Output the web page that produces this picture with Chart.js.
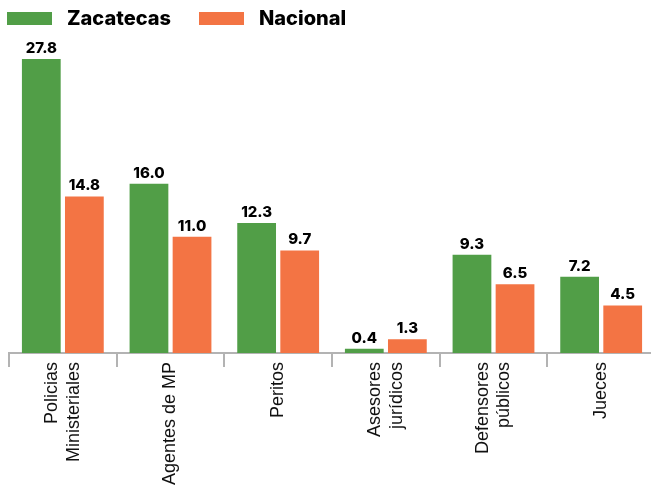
<!DOCTYPE html>
<html>
<head>
<meta charset="utf-8">
<script src="https://cdn.jsdelivr.net/npm/chart.js@4"></script>
<style>
  html, body { margin: 0; padding: 0; background: #fff; overflow: hidden; }
  #wrap { position: relative; width: 651px; height: 491px; overflow: hidden; }
  #chart { position: absolute; left: 0; top: 0; }
  .legend { position: absolute; left: 7px; top: 6px; display: flex; align-items: center;
            font-family: Inter, "Noto Sans", sans-serif; font-weight: 800; font-size: 20px; color: #000; }
  .legend .box { width: 45px; height: 13px; margin-right: 15px; }
  .legend .item { display: flex; align-items: center; margin-right: 28px; }
</style>
</head>
<body>
<div id="wrap">
  <canvas id="chart" width="660" height="491"></canvas>
  <div class="legend">
    <div class="item"><div class="box" style="background:#519e47"></div>Zacatecas</div>
    <div class="item"><div class="box" style="background:#f37444"></div>Nacional</div>
  </div>
</div>
<script>
// --- data ---
const categories = [
  ['Policias', 'Ministeriales'],
  ['Agentes de MP'],
  ['Peritos'],
  ['Asesores', 'jurídicos'],
  ['Defensores', 'públicos'],
  ['Jueces']
];
const zacatecas = [27.8, 16.0, 12.3, 0.4, 9.3, 7.2];
const nacional = [14.8, 11.0, 9.7, 1.3, 6.5, 4.5];

const GREEN = '#519e47';
const ORANGE = '#f37444';
const LABEL_SIZE = 18;
const LABEL_LH = 21.6;

// etiquetas de valor encima de cada barra
const valueLabels = {
  id: 'valueLabels',
  afterDatasetsDraw(chart) {
    const ctx = chart.ctx;
    ctx.save();
    ctx.font = '800 15px Inter, "Noto Sans", sans-serif';
    ctx.fillStyle = '#000';
    ctx.textAlign = 'center';
    ctx.textBaseline = 'alphabetic';
    chart.data.datasets.forEach((ds, i) => {
      chart.getDatasetMeta(i).data.forEach((bar, j) => {
        ctx.fillText(ds.data[j].toFixed(1), bar.x, bar.y - 6);
      });
    });
    ctx.restore();
  }
};

// etiquetas del eje x, giradas y centradas en cada categoria
const xLabels = {
  id: 'xLabels',
  afterDraw(chart) {
    const ctx = chart.ctx;
    const sx = chart.scales.x;
    const top = sx.top + 9;
    ctx.save();
    ctx.font = LABEL_SIZE + 'px "Liberation Sans", Arial, sans-serif';
    ctx.fillStyle = '#111';
    ctx.textAlign = 'right';
    ctx.textBaseline = 'middle';
    chart.data.labels.forEach((lines, i) => {
      const cx = sx.getPixelForValue(i);
      lines.forEach((line, k) => {
        const x = cx + (k - (lines.length - 1) / 2) * LABEL_LH;
        ctx.save();
        ctx.translate(x, top);
        ctx.rotate(-Math.PI / 2);
        ctx.fillText(line, 0, 0);
        ctx.restore();
      });
    });
    ctx.restore();
  }
};

new Chart(document.getElementById('chart'), {
  type: 'bar',
  data: {
    labels: categories,
    datasets: [
      { label: 'Zacatecas', data: zacatecas, backgroundColor: GREEN },
      { label: 'Nacional', data: nacional, backgroundColor: ORANGE }
    ]
  },
  options: {
    responsive: false,
    animation: false,
    categoryPercentage: 0.8,
    barPercentage: 0.9,
    layout: { padding: { left: 9, right: 5, top: 59, bottom: 0 } },
    plugins: { legend: { display: false }, tooltip: { enabled: false } },
    scales: {
      y: { display: false, min: 0, max: 27.8 },
      x: {
        afterFit: (scale) => { scale.height = 138; },
        border: { display: true, color: '#b3b3b3', width: 2 },
        grid: { drawOnChartArea: false, drawTicks: true, tickLength: 14, color: '#b3b3b3', lineWidth: 2, offset: true },
        ticks: { display: false, autoSkip: false }
      }
    }
  },
  plugins: [valueLabels, xLabels]
});
</script>
</body>
</html>
